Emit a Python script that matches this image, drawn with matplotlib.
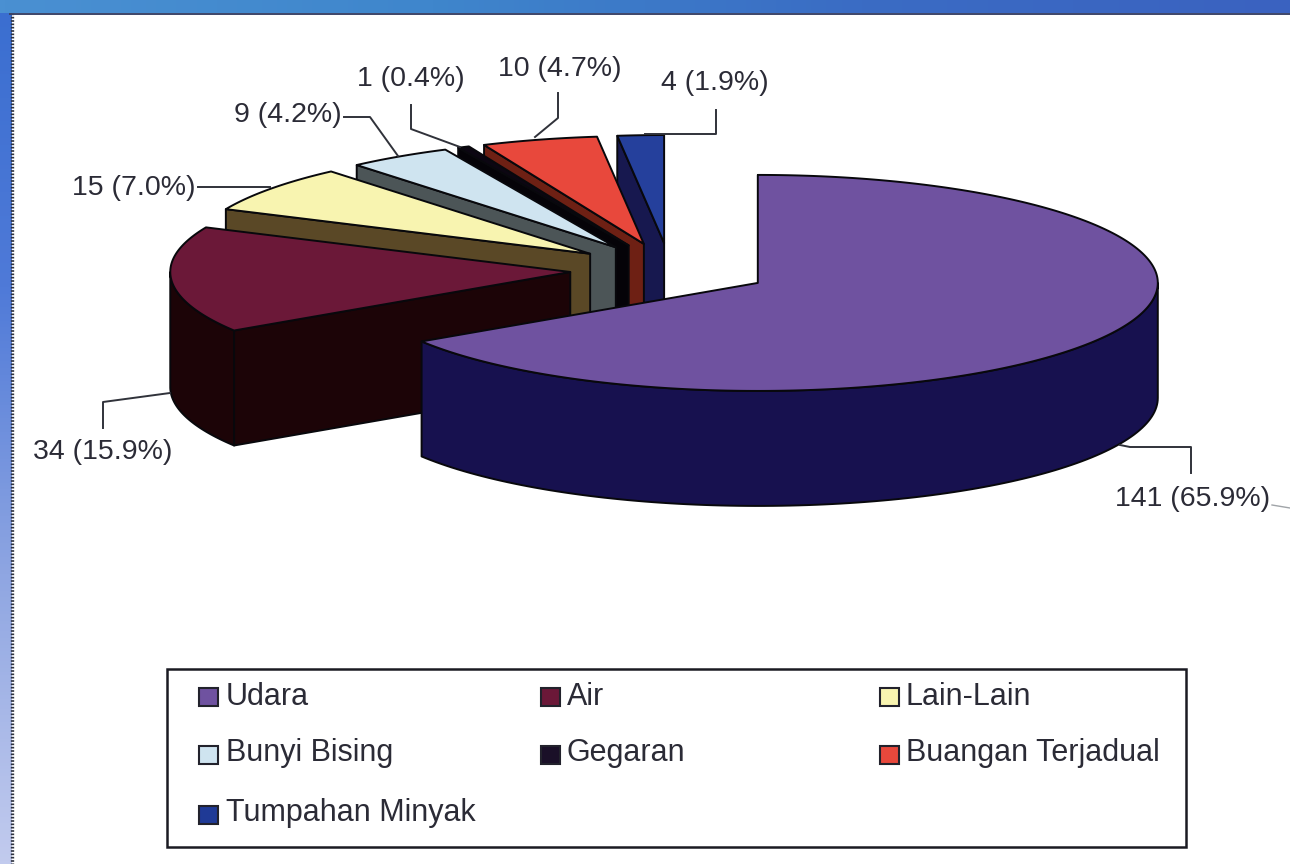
import numpy as np
import matplotlib
matplotlib.use("Agg")
import matplotlib.pyplot as plt
from matplotlib.colors import LinearSegmentedColormap
from matplotlib.patches import Polygon, Rectangle

categories = ["Udara", "Air", "Lain-Lain", "Bunyi Bising", "Gegaran", "Buangan Terjadual", "Tumpahan Minyak"]
values = [141, 34, 15, 9, 1, 10, 4]
value_labels = ["141 (65.9%)", "34 (15.9%)", "15 (7.0%)", "9 (4.2%)", "1 (0.4%)", "10 (4.7%)", "4 (1.9%)"]
top_colors = ["#6f52a0", "#6b1838", "#f8f4b0", "#cfe4f0", "#0c0612", "#e8483c", "#25409c"]
side_colors = ["#17114f", "#1c0407", "#5a4826", "#4c5557", "#050308", "#6e2014", "#17184f"]
swatch_colors = ["#6f52a0", "#6b1838", "#f8f4b0", "#cfe4f0", "#1a1028", "#e8483c", "#1f3a96"]

CX, CY = 670, 270
RX, RY = 400, 108
DEPTH = 115
EXPLODE = 0.25
TXT = "#2b2b36"
FONT = "Liberation Sans"

fig = plt.figure(figsize=(12.9, 8.64), dpi=100)
ax = fig.add_axes([0, 0, 1, 1])
ax.set_xlim(0, 1290)
ax.set_ylim(864, 0)
ax.axis("off")

# slide background and white panel
left_cmap = LinearSegmentedColormap.from_list("l", ["#3a6ed0", "#4f7ad8", "#8fa6e2", "#c2cbee"])
top_cmap = LinearSegmentedColormap.from_list("t", ["#4a90d2", "#3f86cc", "#3a6cc4", "#3a62c0"])
ax.imshow(np.linspace(0, 1, 256)[:, None], cmap=left_cmap, extent=(0, 12, 864, 0), aspect="auto", zorder=0)
ax.imshow(np.linspace(0, 1, 256)[None, :], cmap=top_cmap, extent=(0, 1290, 13, 0), aspect="auto", zorder=0.1)
ax.set_xlim(0, 1290)
ax.set_ylim(864, 0)
ax.plot([11.5, 11.5], [13, 864], color="#2e3240", lw=2.4, ls=(0, (0.5, 0.5)), zorder=0.5)
ax.plot([10, 1290], [13.5, 13.5], color="#3c4468", lw=1.4, zorder=0.5)


def pt(c, t):
    return c[0] + RX * np.sin(t), c[1] - RY * np.cos(t)


def draw_slice(t0, t1, top, side, z):
    mid = (t0 + t1) / 2
    c = (CX + EXPLODE * RX * np.sin(mid), CY - EXPLODE * RY * np.cos(mid))
    kw = dict(edgecolor="#08080c", linewidth=1.4, joinstyle="round", zorder=z)
    # visible cut face
    px, py = pt(c, t0)
    ax.add_patch(Polygon([(c[0], c[1]), (px, py), (px, py + DEPTH), (c[0], c[1] + DEPTH)],
                         closed=True, facecolor=side, **kw))
    # outer rim: only the front half of the ellipse can be seen
    f0, f1 = max(t0, np.pi / 2), min(t1, 3 * np.pi / 2)
    if f1 > f0:
        fs = np.linspace(f0, f1, 120)
        fx, fy = pt(c, fs)
        rim = list(zip(fx, fy)) + list(zip(fx[::-1], fy[::-1] + DEPTH))
        ax.add_patch(Polygon(rim, closed=True, facecolor=side, **kw))
    # top surface
    ts = np.linspace(t0, t1, max(int(np.degrees(t1 - t0)) * 2, 6))
    arc_x, arc_y = pt(c, ts)
    ax.add_patch(Polygon([(c[0], c[1])] + list(zip(arc_x, arc_y)), closed=True, facecolor=top, **kw))


vals = np.array(values, dtype=float)
edges = np.radians(np.concatenate([[0], np.cumsum(vals) / vals.sum() * 360]))
order = list(range(len(values) - 1, 0, -1)) + [0]
for k, i in enumerate(order):
    draw_slice(edges[i], edges[i + 1], top_colors[i], side_colors[i], 2 + k)

# leader lines
leaders = [
    [(1120, 445), (1130, 447), (1191, 447), (1191, 473)],
    [(103, 428), (103, 402), (170, 393)],
    [(198, 187), (270, 187)],
    [(344, 117), (370, 117), (398, 156)],
    [(411, 105), (411, 129), (460, 147)],
    [(558, 93), (558, 118), (535, 137)],
    [(716, 110), (716, 134), (645, 134)],
]
for seg in leaders:
    xs, ys = zip(*seg)
    ax.plot(xs, ys, color="#30323a", lw=1.4, zorder=20)
ax.plot([1272, 1290], [505, 508], color="#a0a4a8", lw=1.0, zorder=20)

# value labels
label_pos = [(1193, 499), (103, 452), (134, 188), (288, 115), (411, 79), (560, 69), (715, 83)]
for s, (x, y) in zip(value_labels, label_pos):
    ax.text(x, y, s, fontsize=20.5, family=FONT, color=TXT, ha="center", va="center", zorder=21)

# legend
ax.add_patch(Rectangle((167, 669), 1019, 178, facecolor="white", edgecolor="#1a1a22", lw=1.8, zorder=22))
cols = [(199, 226), (541, 567), (880, 906)]
rows = [697, 755, 815]
text_rows = [697, 753, 813]
for i, name in enumerate(categories):
    (sx, tx), y, ty = cols[i % 3], rows[i // 3], text_rows[i // 3]
    ax.add_patch(Rectangle((sx, y - 9), 19, 18, facecolor=swatch_colors[i], edgecolor="#22222c", lw=1.5, zorder=23))
    ax.text(tx, ty, name, fontsize=22, family=FONT, color=TXT, ha="left", va="center", zorder=23)

fig.savefig("out.png", dpi=100, facecolor="white")
